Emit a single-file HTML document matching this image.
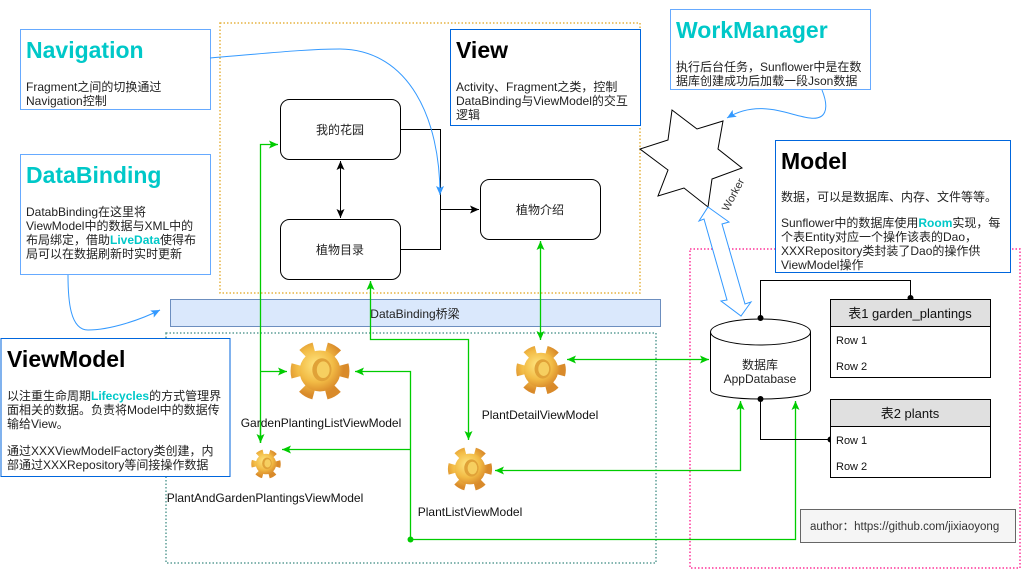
<!DOCTYPE html>
<html><head><meta charset="utf-8"><style>
html,body{margin:0;padding:0;background:#fff;}
body{width:1022px;height:570px;overflow:hidden;font-family:"Liberation Sans","Noto Sans CJK SC",sans-serif;}
</style></head><body>
<svg width="1022" height="570" viewBox="0 0 1022 570" xmlns="http://www.w3.org/2000/svg" font-family="Liberation Sans, Noto Sans CJK SC, sans-serif">
<defs>
<radialGradient id="gg" cx="0.4" cy="0.35" r="0.7"><stop offset="0" stop-color="#ffe680"/><stop offset="0.6" stop-color="#f2bb45"/><stop offset="1" stop-color="#d98a2a"/></radialGradient>
<symbol id="gear" viewBox="-50 -50 100 100">
<circle r="33" fill="none" stroke="url(#gg)" stroke-width="26" stroke-dasharray="17.28 17.28" transform="rotate(-15)"/>
<circle r="32" fill="url(#gg)"/>
<ellipse cx="3" cy="-2" rx="15" ry="18" fill="#e0a238"/>
<ellipse cx="5" cy="-2" rx="10" ry="13" fill="#f6cf60"/>
</symbol>
<marker id="ab" markerWidth="10" markerHeight="10" refX="9" refY="5" orient="auto" markerUnits="userSpaceOnUse"><path d="M0,1 L9,5 L0,9 L2,5z" fill="#000"/></marker>
<marker id="ag" markerWidth="10" markerHeight="10" refX="9" refY="5" orient="auto-start-reverse" markerUnits="userSpaceOnUse"><path d="M0,1 L9,5 L0,9 L2,5z" fill="#00cc00"/></marker>
<marker id="abk" markerWidth="10" markerHeight="10" refX="9" refY="5" orient="auto-start-reverse" markerUnits="userSpaceOnUse"><path d="M0,1 L9,5 L0,9 L2,5z" fill="#000"/></marker>
<marker id="abl" markerWidth="10" markerHeight="10" refX="9" refY="5" orient="auto" markerUnits="userSpaceOnUse"><path d="M0,1 L9,5 L0,9 L2,5z" fill="#3399ff"/></marker>
</defs>

<rect x="220" y="23" width="420" height="270" fill="none" stroke="#e6b340" stroke-width="1.5" stroke-dasharray="1.5 2"/>
<rect x="166" y="333" width="490" height="230" fill="none" stroke="#5c9e96" stroke-width="1.5" stroke-dasharray="1.5 2"/>
<rect x="690" y="249" width="330" height="319" fill="none" stroke="#ff3399" stroke-width="1.5" stroke-dasharray="1.5 2"/>

<rect x="20.5" y="29.5" width="190" height="80" fill="#fff" stroke="#66aaff"/>
<text x="26" y="58" font-size="23" font-weight="bold" fill="#00c8c8">Navigation</text>
<text x="26" y="91" font-size="12" fill="#222">Fragment之间的切换通过</text>
<text x="26" y="105" font-size="12" fill="#222">Navigation控制</text>

<rect x="20.5" y="154.5" width="190" height="120" fill="#fff" stroke="#66aaff"/>
<text x="26" y="183" font-size="23" font-weight="bold" fill="#00c8c8">DataBinding</text>
<g font-size="12" fill="#222">
<text x="26" y="216">DatabBinding在这里将</text>
<text x="26" y="230">ViewModel中的数据与XML中的</text>
<text x="26" y="244">布局绑定，借助<tspan fill="#00c8c8" font-weight="bold">LiveData</tspan>使得布</text>
<text x="26" y="258">局可以在数据刷新时实时更新</text>
</g>
<path d="M68,275 C68,300 70,330 88,330 C110,330 140,320 160,310" fill="none" stroke="#3399ff" marker-end="url(#abl)"/>

<rect x="450.5" y="29.5" width="190" height="96" fill="#fff" stroke="#0066dd"/>
<text x="456" y="58" font-size="23" font-weight="bold" fill="#000">View</text>
<g font-size="12" fill="#222">
<text x="456" y="91">Activity、Fragment之类，控制</text>
<text x="456" y="105">DataBinding与ViewModel的交互</text>
<text x="456" y="119">逻辑</text>
</g>

<rect x="280.5" y="99.5" width="120" height="60" rx="9" fill="#fff" stroke="#000"/>
<text x="340" y="134" font-size="12" text-anchor="middle" fill="#222">我的花园</text>
<rect x="280.5" y="219.5" width="120" height="60" rx="9" fill="#fff" stroke="#000"/>
<text x="340" y="254" font-size="12" text-anchor="middle" fill="#222">植物目录</text>
<rect x="480.5" y="179.5" width="120" height="60" rx="9" fill="#fff" stroke="#000"/>
<text x="540" y="214" font-size="12" text-anchor="middle" fill="#222">植物介绍</text>
<path d="M400,129.5 H440.5 V249.5 H400" fill="none" stroke="#000"/>
<path d="M440.5,209.5 H479" stroke="#000" marker-end="url(#ab)"/>
<line x1="340.5" y1="161" x2="340.5" y2="218" stroke="#000" marker-start="url(#abk)" marker-end="url(#abk)"/>
<path d="M210,58 C280,52 310,49 340,49 C410,50 440,120 440,195" fill="none" stroke="#3399ff" marker-end="url(#abl)"/>

<rect x="670.5" y="9.5" width="200" height="80" fill="#fff" stroke="#66aaff"/>
<text x="676" y="38" font-size="23" font-weight="bold" fill="#00c8c8">WorkManager</text>
<text x="676" y="71" font-size="12" fill="#222">执行后台任务，Sunflower中是在数</text>
<text x="676" y="85" font-size="12" fill="#222">据库创建成功后加载一段Json数据</text>
<path d="M822,90 C830,110 825,120 810,118 C790,116 760,98 727,118" fill="none" stroke="#3399ff" marker-end="url(#abl)"/>
<polygon points="672,110 697,129 723,121 718,149 742,168 712,179 708,207 684,188 658,196 668,170 640,149 668,140" fill="#fff" stroke="#000"/>

<polygon points="708,207 729,222 722,224 745,304 751,302 741,316 721,301 727,300 704,219 699,221" fill="#fff" stroke="#3399ff"/>
<text x="0" y="0" font-size="11" fill="#333" transform="translate(728,212) rotate(-62)">Worker</text>

<rect x="775.5" y="140.5" width="235" height="132" fill="#fff" stroke="#0066dd"/>
<text x="781" y="169" font-size="23" font-weight="bold" fill="#000">Model</text>
<g font-size="12" fill="#222">
<text x="781" y="201">数据，可以是数据库、内存、文件等等。</text>
<text x="781" y="227">Sunflower中的数据库使用<tspan fill="#00c8c8" font-weight="bold">Room</tspan>实现，每</text>
<text x="781" y="241">个表Entity对应一个操作该表的Dao，</text>
<text x="781" y="255">XXXRepository类封装了Dao的操作供</text>
<text x="781" y="269">ViewModel操作</text>
</g>

<rect x="170.5" y="299.5" width="490" height="27" fill="#dae8fc" stroke="#6c8ebf"/>
<text x="415" y="318" font-size="12" text-anchor="middle" fill="#222">DataBinding桥梁</text>

<rect x="1" y="338.5" width="229" height="138" fill="#fff" stroke="#0066dd"/>
<text x="7" y="367" font-size="23" font-weight="bold" fill="#000">ViewModel</text>
<g font-size="12" fill="#222">
<text x="7" y="400">以注重生命周期<tspan fill="#00c8c8" font-weight="bold">Lifecycles</tspan>的方式管理界</text>
<text x="7" y="414">面相关的数据。负责将Model中的数据传</text>
<text x="7" y="428">输给View。</text>
<text x="7" y="455">通过XXXViewModelFactory类创建，内</text>
<text x="7" y="469">部通过XXXRepository等间接操作数据</text>
</g>

<g fill="none" stroke="#00cc00" stroke-width="1.3">
<path d="M260.5,443 V144.5 H278" marker-end="url(#ag)"/>
<path d="M260.5,371.5 H287" marker-end="url(#ag)"/>
<path d="M260.5,420 V443" marker-end="url(#ag)"/>
<path d="M370.5,281 V339.5 H468.5 V440" marker-start="url(#ag)" marker-end="url(#ag)"/>
<path d="M540.5,241 V340" marker-start="url(#ag)" marker-end="url(#ag)"/>
<path d="M567,359.5 H709" marker-start="url(#ag)" marker-end="url(#ag)"/>
<path d="M355,371.5 H410.5 V539.5 H795.5 V401" marker-start="url(#ag)" marker-end="url(#ag)"/>
<path d="M410.5,449.5 H282" marker-end="url(#ag)"/>
<path d="M495,470.5 H740.5 V401" marker-start="url(#ag)" marker-end="url(#ag)"/>
</g>
<circle cx="410.5" cy="539.5" r="3" fill="#00cc00"/>

<use href="#gear" x="288" y="339" width="64" height="64"/>
<use href="#gear" x="250" y="448" width="32" height="32"/>
<use href="#gear" x="446" y="445" width="48" height="48"/>
<use href="#gear" x="514" y="343" width="54" height="54"/>
<g font-size="12" fill="#111" text-anchor="middle">
<text x="321" y="427">GardenPlantingListViewModel</text>
<text x="265" y="502">PlantAndGardenPlantingsViewModel</text>
<text x="470" y="516">PlantListViewModel</text>
<text x="540" y="419">PlantDetailViewModel</text>
</g>

<path d="M710.5,332 V390 C710.5,402 810.5,402 810.5,390 V332" fill="#fff" stroke="#000"/>
<ellipse cx="760.5" cy="332" rx="50" ry="13" fill="#fff" stroke="#000"/>
<text x="760" y="369" font-size="12" text-anchor="middle" fill="#222">数据库</text>
<text x="760" y="383" font-size="12" text-anchor="middle" fill="#222">AppDatabase</text>
<path d="M760.5,319 V280.5 H910.5 V299" fill="none" stroke="#000"/>
<circle cx="760.5" cy="318" r="3" fill="#000"/>
<circle cx="910.5" cy="298" r="3" fill="#000"/>
<path d="M760.5,399 V439.5 H830" fill="none" stroke="#000"/>
<circle cx="760.5" cy="399" r="3" fill="#000"/>
<circle cx="830.5" cy="439.5" r="3" fill="#000"/>

<rect x="830.5" y="299.5" width="160" height="78" fill="#fff" stroke="#000"/>
<rect x="830.5" y="299.5" width="160" height="27" fill="#e0e0e0" stroke="#000"/>
<text x="910" y="318" font-size="13" text-anchor="middle" fill="#111">表1 garden_plantings</text>
<text x="836" y="344" font-size="11" fill="#111">Row 1</text>
<text x="836" y="370" font-size="11" fill="#111">Row 2</text>
<rect x="830.5" y="399.5" width="160" height="78" fill="#fff" stroke="#000"/>
<rect x="830.5" y="399.5" width="160" height="27" fill="#e0e0e0" stroke="#000"/>
<text x="910" y="418" font-size="13" text-anchor="middle" fill="#111">表2 plants</text>
<text x="836" y="444" font-size="11" fill="#111">Row 1</text>
<text x="836" y="470" font-size="11" fill="#111">Row 2</text>

<rect x="800.5" y="509.5" width="215" height="33" fill="#f5f5f5" stroke="#666"/>
<text x="810" y="530" font-size="11.5" fill="#333">author：https://github.com/jixiaoyong</text>
</svg>
</body></html>
